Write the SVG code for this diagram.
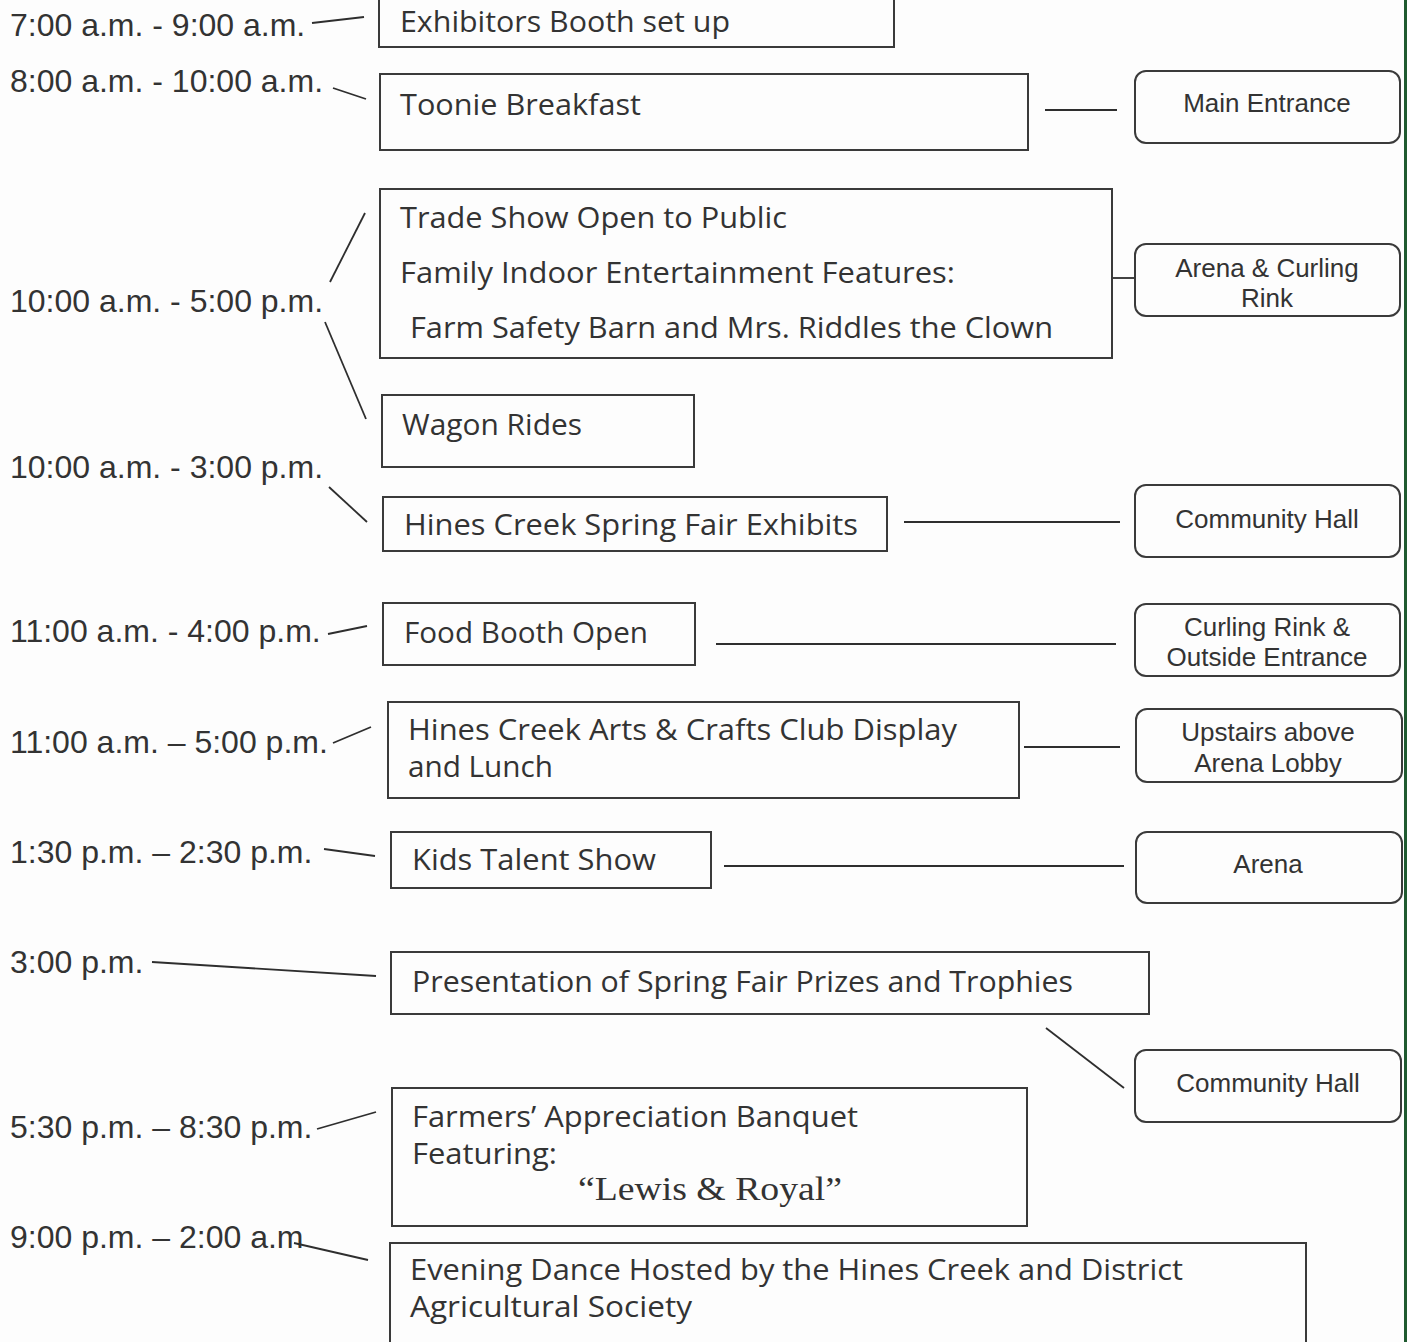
<svg xmlns="http://www.w3.org/2000/svg" width="1407" height="1342" viewBox="0 0 1407 1342">
<style>
.bg{fill:#fdfdfd}
.box{fill:none;stroke:#3a3a3a;stroke-width:2}
.loc{fill:none;stroke:#3a3a3a;stroke-width:2}
.ln{stroke:#2e2e2e;stroke-width:1.8;fill:none}
.time{font-family:"Liberation Sans",Arial,sans-serif;font-size:32px;fill:#333}
.txt{font-family:"Open Sans","Noto Sans",sans-serif;font-size:29px;fill:#333}
.lt{font-family:"Liberation Sans",Arial,sans-serif;font-size:26px;fill:#333;text-anchor:middle}
.fancy{font-family:"Liberation Serif","DejaVu Serif",serif;font-size:33px;fill:#333}
</style>
<rect class="bg" x="0" y="0" width="1407" height="1342"/>
<rect x="1404" y="0" width="3" height="1342" fill="#1f5a30"/>

<g id="times">
<text class="time" x="10" y="36">7:00 a.m. - 9:00 a.m.</text>
<text class="time" x="10" y="92">8:00 a.m. - 10:00 a.m.</text>
<text class="time" x="10" y="312">10:00 a.m. - 5:00 p.m.</text>
<text class="time" x="10" y="478">10:00 a.m. - 3:00 p.m.</text>
<text class="time" x="10" y="642">11:00 a.m. - 4:00 p.m.</text>
<text class="time" x="10" y="753">11:00 a.m. – 5:00 p.m.</text>
<text class="time" x="10" y="863">1:30 p.m. – 2:30 p.m.</text>
<text class="time" x="10" y="973">3:00 p.m.</text>
<text class="time" x="10" y="1138">5:30 p.m. – 8:30 p.m.</text>
<text class="time" x="10" y="1248">9:00 p.m. – 2:00 a.m</text>
</g>

<g id="connectors">
<line class="ln" x1="312" y1="23" x2="364" y2="17"/>
<line class="ln" x1="333" y1="88" x2="366" y2="99"/>
<line class="ln" x1="330" y1="282" x2="365" y2="213"/>
<line class="ln" x1="325" y1="322" x2="366" y2="419"/>
<line class="ln" x1="329" y1="487" x2="367" y2="522"/>
<line class="ln" x1="328" y1="634" x2="367" y2="626"/>
<line class="ln" x1="333" y1="743" x2="371" y2="727"/>
<line class="ln" x1="324" y1="849" x2="375" y2="856"/>
<line class="ln" x1="152" y1="962" x2="376" y2="976"/>
<line class="ln" x1="317" y1="1129" x2="376" y2="1112"/>
<line class="ln" x1="294" y1="1243" x2="368" y2="1260"/>
<line class="ln" x1="1045" y1="110" x2="1117" y2="110"/>
<line class="ln" x1="1112" y1="278" x2="1135" y2="278"/>
<line class="ln" x1="904" y1="522" x2="1120" y2="522"/>
<line class="ln" x1="716" y1="644" x2="1116" y2="644"/>
<line class="ln" x1="1024" y1="747" x2="1120" y2="747"/>
<line class="ln" x1="724" y1="866" x2="1124" y2="866"/>
<line class="ln" x1="1046" y1="1028" x2="1124" y2="1088"/>
</g>

<g id="exhibitors">
<rect class="box" x="379" y="-10" width="515" height="57"/>
<text class="txt" x="400" y="32" textLength="330" lengthAdjust="spacingAndGlyphs">Exhibitors Booth set up</text>
</g>
<g id="toonie">
<rect class="box" x="380" y="74" width="648" height="76"/>
<text class="txt" x="400" y="115" textLength="241" lengthAdjust="spacingAndGlyphs">Toonie Breakfast</text>
</g>
<g id="tradeshow">
<rect class="box" x="380" y="189" width="732" height="169"/>
<text class="txt" x="400" y="228" textLength="387" lengthAdjust="spacingAndGlyphs">Trade Show Open to Public</text>
<text class="txt" x="400" y="283" textLength="555" lengthAdjust="spacingAndGlyphs">Family Indoor Entertainment Features:</text>
<text class="txt" x="410" y="338" textLength="643" lengthAdjust="spacingAndGlyphs">Farm Safety Barn and Mrs. Riddles the Clown</text>
</g>
<g id="wagon">
<rect class="box" x="382" y="395" width="312" height="72"/>
<text class="txt" x="402" y="435" textLength="180" lengthAdjust="spacingAndGlyphs">Wagon Rides</text>
</g>
<g id="exhibits">
<rect class="box" x="383" y="497" width="504" height="54"/>
<text class="txt" x="404" y="535" textLength="454" lengthAdjust="spacingAndGlyphs">Hines Creek Spring Fair Exhibits</text>
</g>
<g id="food">
<rect class="box" x="383" y="603" width="312" height="62"/>
<text class="txt" x="404" y="643" textLength="244" lengthAdjust="spacingAndGlyphs">Food Booth Open</text>
</g>
<g id="arts">
<rect class="box" x="388" y="702" width="631" height="96"/>
<text class="txt" x="408" y="740" textLength="549" lengthAdjust="spacingAndGlyphs">Hines Creek Arts &amp; Crafts Club Display</text>
<text class="txt" x="408" y="777" textLength="145" lengthAdjust="spacingAndGlyphs">and Lunch</text>
</g>
<g id="kids">
<rect class="box" x="391" y="832" width="320" height="56"/>
<text class="txt" x="412" y="870" textLength="244" lengthAdjust="spacingAndGlyphs">Kids Talent Show</text>
</g>
<g id="presentation">
<rect class="box" x="391" y="952" width="758" height="62"/>
<text class="txt" x="412" y="992" textLength="661" lengthAdjust="spacingAndGlyphs">Presentation of Spring Fair Prizes and Trophies</text>
</g>
<g id="banquet">
<rect class="box" x="392" y="1088" width="635" height="138"/>
<text class="txt" x="412" y="1127" textLength="446" lengthAdjust="spacingAndGlyphs">Farmers’ Appreciation Banquet</text>
<text class="txt" x="412" y="1164" textLength="145" lengthAdjust="spacingAndGlyphs">Featuring:</text>
<text class="fancy" x="578" y="1200" textLength="264" lengthAdjust="spacingAndGlyphs">“Lewis &amp; Royal”</text>
</g>
<g id="dance">
<rect class="box" x="390" y="1243" width="916" height="120"/>
<text class="txt" x="410" y="1280" textLength="773" lengthAdjust="spacingAndGlyphs">Evening Dance Hosted by the Hines Creek and District</text>
<text class="txt" x="410" y="1317" textLength="282" lengthAdjust="spacingAndGlyphs">Agricultural Society</text>
</g>

<g id="loc-main-entrance">
<rect class="loc" x="1135" y="71" width="265" height="72" rx="11"/>
<text class="lt" x="1267" y="112">Main Entrance</text>
</g>
<g id="loc-arena-curling">
<rect class="loc" x="1135" y="244" width="265" height="72" rx="11"/>
<text class="lt" x="1267" y="277">Arena &amp; Curling</text>
<text class="lt" x="1267" y="307">Rink</text>
</g>
<g id="loc-community-hall-1">
<rect class="loc" x="1135" y="485" width="265" height="72" rx="11"/>
<text class="lt" x="1267" y="528">Community Hall</text>
</g>
<g id="loc-curling-outside">
<rect class="loc" x="1135" y="604" width="265" height="72" rx="11"/>
<text class="lt" x="1267" y="636">Curling Rink &amp;</text>
<text class="lt" x="1267" y="666">Outside Entrance</text>
</g>
<g id="loc-upstairs">
<rect class="loc" x="1136" y="709" width="266" height="73" rx="11"/>
<text class="lt" x="1268" y="741">Upstairs above</text>
<text class="lt" x="1268" y="772">Arena Lobby</text>
</g>
<g id="loc-arena">
<rect class="loc" x="1136" y="832" width="266" height="71" rx="11"/>
<text class="lt" x="1268" y="873">Arena</text>
</g>
<g id="loc-community-hall-2">
<rect class="loc" x="1135" y="1050" width="266" height="72" rx="11"/>
<text class="lt" x="1268" y="1092">Community Hall</text>
</g>
</svg>
